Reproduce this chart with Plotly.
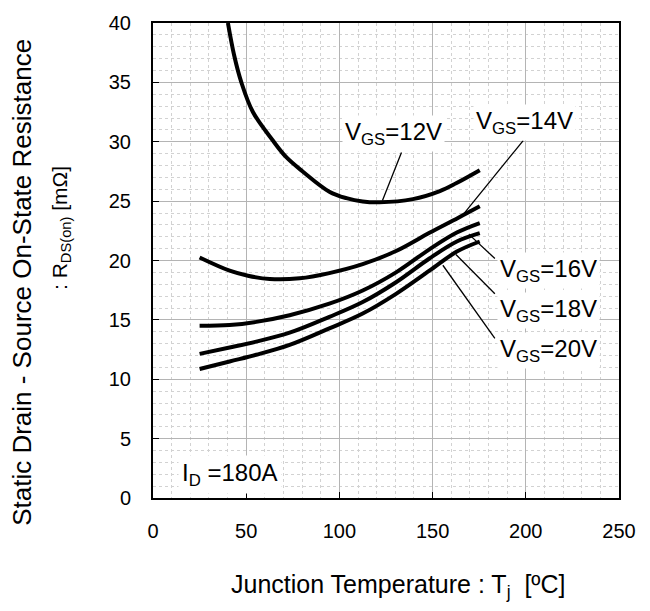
import plotly.graph_objects as go

# ---- data ----
T12 = [40.2, 43.5, 47.4, 53.6, 64.3, 71.5, 80.3, 94.6, 103.8, 112.5, 121.5, 139.4, 153.9, 162.6, 175.3]
R12 = [40.0, 37.3, 35.0, 32.5, 30.1, 28.7, 27.5, 25.8, 25.25, 24.97, 24.9, 25.17, 25.85, 26.5, 27.6]

T14 = [25, 41.1, 50.9, 62.6, 78.7, 94.6, 112.5, 130.4, 148.3, 163.6, 175.3]
R14 = [20.25, 19.14, 18.72, 18.44, 18.5, 18.94, 19.69, 20.8, 22.33, 23.58, 24.56]

T_LO = [25, 41.1, 55.4, 73.3, 94.6, 112.5, 130.4, 148.3, 163.0, 175.3]
R16 = [14.5, 14.56, 14.83, 15.39, 16.36, 17.47, 19.0, 20.94, 22.35, 23.15]
R18 = [12.14, 12.67, 13.17, 13.92, 15.25, 16.5, 18.17, 20.17, 21.6, 22.3]
R20 = [10.86, 11.5, 12.06, 12.89, 14.28, 15.53, 17.19, 19.14, 20.75, 21.6]

# label texts and positions (data coords)
LABELS = ["V<sub>GS</sub>=12V", "V<sub>GS</sub>=14V", "V<sub>GS</sub>=16V",
          "V<sub>GS</sub>=18V", "V<sub>GS</sub>=20V"]
LABEL_X = [128.8, 199.1, 212.0, 212.0, 212.0]
LABEL_Y = [30.7, 31.6, 19.15, 15.75, 12.45]

# leader lines: (x0, y0) near label -> (x1, y1) on curve
LEAD_X0 = [133.3, 198.6, 183.4, 183.4, 183.4]
LEAD_Y0 = [29.1, 30.1, 20.17, 17.2, 13.44]
LEAD_X1 = [123.1, 165.5, 169.5, 162.5, 155.5]
LEAD_Y1 = [25.06, 23.7, 22.2, 20.5, 19.6]

X_TICKS = [0, 50, 100, 150, 200, 250]
Y_TICKS = [0, 5, 10, 15, 20, 25, 30, 35, 40]

FONT = "Liberation Sans, Arial, sans-serif"

fig = go.Figure()

# leader lines (drawn first, under curves)
for x0, y0, x1, y1 in zip(LEAD_X0, LEAD_Y0, LEAD_X1, LEAD_Y1):
    fig.add_trace(go.Scatter(x=[x0, x1], y=[y0, y1], mode="lines",
                             line=dict(color="black", width=1.3),
                             showlegend=False, hoverinfo="skip"))

for tx, ry in [(T12, R12), (T14, R14), (T_LO, R16), (T_LO, R18), (T_LO, R20)]:
    fig.add_trace(go.Scatter(x=tx, y=ry, mode="lines",
                             line=dict(color="black", width=4, shape="spline", smoothing=1.0),
                             showlegend=False, hoverinfo="skip"))

annotations = []
for t, x, y in zip(LABELS, LABEL_X, LABEL_Y):
    annotations.append(dict(x=x, y=y, xref="x", yref="y", text=t, showarrow=False,
                            font=dict(family=FONT, size=24, color="black"),
                            bgcolor="white", borderpad=2,
                            xanchor="center", yanchor="middle"))

annotations.append(dict(x=41.1, y=2.0, xref="x", yref="y", text="I<sub>D</sub> =180A",
                        showarrow=False, font=dict(family=FONT, size=24, color="black"),
                        bgcolor="white", borderpad=3, xanchor="center", yanchor="middle"))

# axis titles
annotations.append(dict(x=0.525, y=-0.185, xref="paper", yref="paper",
                        text="Junction Temperature : T<sub>j</sub>  [ºC]",
                        showarrow=False, font=dict(family=FONT, size=25, color="black"),
                        xanchor="center", yanchor="middle"))
annotations.append(dict(x=-0.280, y=0.454, xref="paper", yref="paper",
                        text="Static Drain - Source On-State Resistance", textangle=-90,
                        showarrow=False, font=dict(family=FONT, size=26, color="black"),
                        xanchor="center", yanchor="middle"))
annotations.append(dict(x=-0.199, y=0.569, xref="paper", yref="paper",
                        text=": R<sub>DS(on)</sub> [mΩ]", textangle=-90,
                        showarrow=False, font=dict(family=FONT, size=21, color="black"),
                        xanchor="center", yanchor="middle"))

axis_common = dict(showline=True, linecolor="black", linewidth=2, mirror=True,
                   ticks="inside", ticklen=6, tickcolor="black", tickwidth=1,
                   showgrid=True, gridcolor="#b4b4b4", gridwidth=1,
                   zeroline=False,
                   tickfont=dict(family=FONT, size=20, color="black"))

fig.update_xaxes(range=[0, 250], tickvals=X_TICKS, ticktext=[str(v) for v in X_TICKS],
                 minor=dict(dtick=10, tick0=0, showgrid=True, gridcolor="#d2d2d2",
                            griddash="dot", gridwidth=1),
                 ticklabelstandoff=14, **axis_common)
fig.update_yaxes(range=[0, 40], tickvals=Y_TICKS, ticktext=[str(v) for v in Y_TICKS],
                 minor=dict(dtick=1, tick0=0, showgrid=True, gridcolor="#d2d2d2",
                            griddash="dot", gridwidth=1),
                 ticklabelstandoff=16, **axis_common)

fig.update_layout(width=650, height=611,
                  margin=dict(l=153, r=31, t=18, b=113),
                  paper_bgcolor="white", plot_bgcolor="white",
                  annotations=annotations, showlegend=False)

fig.write_html("out.html")
